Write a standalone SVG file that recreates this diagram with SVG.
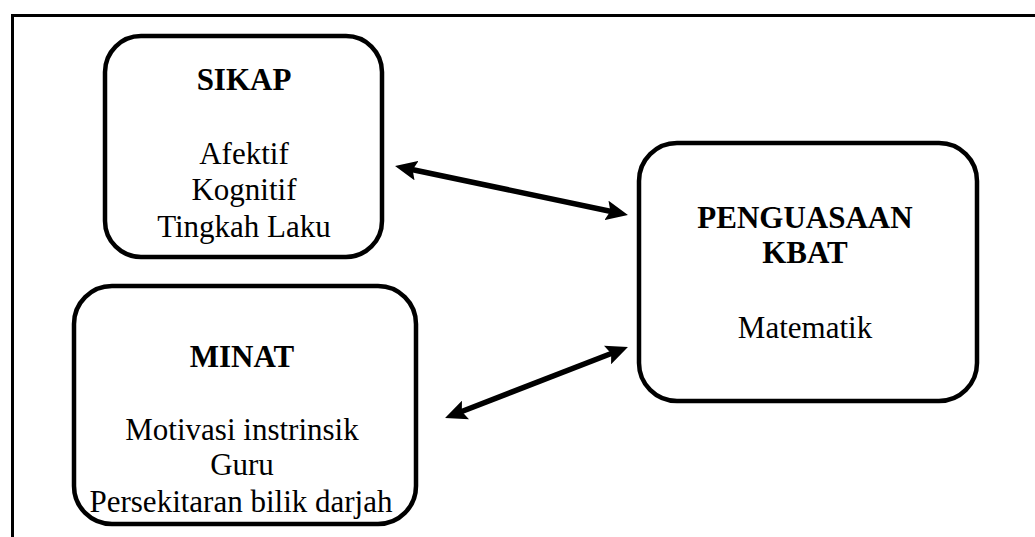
<svg xmlns="http://www.w3.org/2000/svg" width="1035" height="537" viewBox="0 0 1035 537">
<style>
.box{fill:#fff;stroke:#000;stroke-width:4.5}
.t{font-family:"Liberation Serif","Times New Roman",serif;font-size:31px;text-anchor:middle;fill:#000}
.b{font-weight:bold}
.con{stroke:#000;stroke-width:5.5;fill:none}
</style>
<defs>
<marker id="ah" markerUnits="userSpaceOnUse" markerWidth="22" markerHeight="20" viewBox="0 0 22 20" refX="11" refY="10" orient="auto-start-reverse">
<path d="M0,0 L22,10 L0,20 L4,10 z" fill="#000"/>
</marker>
</defs>
<rect width="1035" height="537" fill="#fff"/>
<path d="M12.5,537 V15.5 H1035" fill="none" stroke="#000" stroke-width="3"/>
<g id="sikap">
<rect class="box" x="105" y="36" width="277" height="221" rx="36"/>
<text class="t b" x="244" y="90">SIKAP</text>
<text class="t" x="244" y="164">Afektif</text>
<text class="t" x="244" y="200">Kognitif</text>
<text class="t" x="244" y="237">Tingkah Laku</text>
</g>
<g id="minat">
<rect class="box" x="74" y="286" width="342" height="238" rx="38"/>
<text class="t b" x="242" y="367">MINAT</text>
<text class="t" x="242" y="440">Motivasi instrinsik</text>
<text class="t" x="242" y="475">Guru</text>
<text class="t" x="241" y="512">Persekitaran bilik darjah</text>
</g>
<g id="penguasaan">
<rect class="box" x="639" y="143" width="338" height="258" rx="38"/>
<text class="t b" x="805" y="228">PENGUASAAN</text>
<text class="t b" x="805" y="263">KBAT</text>
<text class="t" x="805" y="338">Matematik</text>
</g>
<g id="connectors">
<line class="con" x1="405.8" y1="168.3" x2="617.2" y2="212.7" marker-start="url(#ah)" marker-end="url(#ah)"/>
<line class="con" x1="455.3" y1="414.0" x2="617.7" y2="351.0" marker-start="url(#ah)" marker-end="url(#ah)"/>
</g>
</svg>
